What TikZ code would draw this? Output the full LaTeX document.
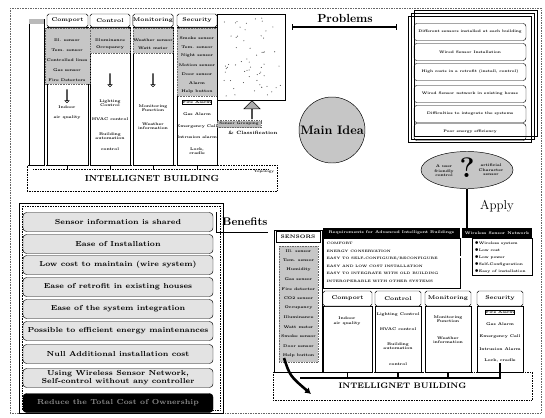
\documentclass[tikz,border=0pt]{standalone}
\usepackage{fontspec}
\usepackage{xcolor}
\usepackage{tikz}
\usetikzlibrary{shapes.geometric,shapes.arrows,arrows.meta}

\newcommand\tinyb{\fontsize{3.3}{3.9}\selectfont\bfseries}

\tikzset{
  frame/.style={draw=black!60, densely dotted},
  colbody/.style={draw, line width=0.5pt},
  colhead/.style={draw, fill=white, rounded corners=1.5pt, inner sep=0pt, font=\fontsize{4.6}{4.6}\selectfont\bfseries},
  sensfill/.style={fill=gray!45, draw=black!60, densely dotted},
  lbl/.style={inner sep=0.3pt, align=center, font=\tinyb},
  downarr/.style={single arrow, draw, fill=white, shape border rotate=270, minimum height=13*0.03cm, minimum width=4*0.03cm, single arrow head extend=0.8pt, inner sep=0pt},
  building/.style={draw, densely dotted, inner sep=0pt},
  bigtitle/.style={inner sep=0pt, font=\fontsize{10}{10}\selectfont\bfseries},
  benefit/.style={draw, rounded corners=3pt, fill=gray!22, minimum width=190*0.03cm, minimum height=19*0.03cm, inner sep=0pt, align=center, font=\fontsize{6.2}{6.6}\selectfont\bfseries},
  problem/.style={draw, rounded corners=2.5pt, minimum width=112*0.03cm, minimum height=17*0.03cm, inner sep=0pt, font=\fontsize{3.1}{3.6}\selectfont\bfseries},
  blackhead/.style={fill=black, text=white, inner sep=0pt, font=\fontsize{3.3}{3.8}\selectfont\bfseries},
}

\begin{document}
\begin{tikzpicture}[x=0.03cm,y=-0.03cm]
\useasboundingbox (0,0) rectangle (545,417);
\draw[frame] (10,8) rectangle (541,413);

% top building with its sensor columns
\node[building, minimum width=250*0.03cm, minimum height=26*0.03cm, font=\fontsize{7.5}{7.5}\selectfont\bfseries] (tbuild) at (152,178) {\raisebox{-2pt}{INTELLIGNET BUILDING}};
\node[lbl, font=\fontsize{2.8}{3}\selectfont\bfseries] (ttopo) at (264,172) {Topology};
\draw[densely dotted] (33,169) -- (268,169);
\draw[colbody] (29,19) rectangle (44,165);
\fill[gray!55] (29,19) rectangle (44,24);
\foreach \xa/\xb/\nm/\lab in {47/88/tcomport/Comport,90/130/tcontrol/Control,133/173/tmonitor/Monitoring,177/217/tsecurity/Security}{
  \draw[colbody] (\xa,27) rectangle (\xb,165);
  \node[colhead, minimum width={(\xb-\xa)*0.03cm}, minimum height=13*0.03cm] (\nm) at ({(\xa+\xb)/2},20.5) {\lab};
  \draw ({(\xa+\xb)/2},165) -- ({(\xa+\xb)/2},169);
}
\path[sensfill] (45,28) rectangle (90,84);
\path[sensfill] (90,28) rectangle (130,53);
\path[sensfill] (133,28) rectangle (173,53);
\path[sensfill] (177,28) rectangle (217,96);
\foreach \t [count=\i] in {Ill. sensor, Tem. sensor, Controlled lines, Gas sensor, Fire Detectors}
  \node[lbl] (tcs\i) at (67,{30+\i*10}) {\t};
\node[lbl] (tcc1) at (110,40) {Illuminance};
\node[lbl] (tcc2) at (110,48) {Occupancy};
\node[lbl] (tcm1) at (153,40) {Weather sensor};
\node[lbl] (tcm2) at (153,48) {Watt meter};
\foreach \t [count=\i] in {Smoke sensor, Tem. sensor, Night sensor, Motion sensor, Door sensor, Alarm, Help button}
  \node[lbl] (tss\i) at (197,{29+\i*9}) {\t};
\node[downarr] (tcomport-arr) at (67,96) {};
\node[downarr] (tcontrol-arr) at (110,80) {};
\node[downarr] (tmonitor-arr) at (153,80) {};
\node[lbl] (tco1) at (67,107) {Indoor};
\node[lbl] (tco2) at (67,118) {air quality};
\node[lbl] (tct1) at (110,103) {Lighting\\Control};
\node[lbl] (tct2) at (110,119) {HVAC control};
\node[lbl] (tct3) at (110,136) {Building\\automation};
\node[lbl] (tct4) at (110,149) {control};
\node[lbl] (tmo1) at (153,108) {Monitoring\\Function};
\node[lbl] (tmo2) at (153,126) {Weather\\information};
\node[lbl, draw] (tse1) at (197,102) {Fire Alarm};
\node[lbl] (tse2) at (197,114) {Gas Alarm};
\node[lbl] (tse3) at (197,127) {Emergency Call};
\node[lbl] (tse4) at (197,137) {Intrusion alarm};
\node[lbl] (tse5) at (197,151) {Lock,\\cradle};

% sensor field
\node[draw, minimum width=68*0.03cm, minimum height=86*0.03cm, inner sep=0pt] (field) at (251,57) {};
\pgfmathsetseed{5}
\foreach \i in {1,...,60}
  \fill[black!75] ({221+60*rnd},{18+78*rnd}) circle (0.45pt);
\node[single arrow, draw, fill=gray!65, shape border rotate=90, minimum height=18*0.03cm, minimum width=16*0.03cm, single arrow head extend=0.12cm, inner sep=0pt] (uparr) at (252,110) {};
\node[fill=gray!55, draw=black!60, densely dotted, minimum width=44*0.03cm, minimum height=7*0.03cm, inner sep=0pt, font=\fontsize{3}{3}\selectfont\bfseries] (group) at (239,124) {Sensor Grouping};
\node[lbl, font=\fontsize{4}{4}\selectfont\bfseries] (classif) at (253,133) {\& Classification};

% problems
\node[bigtitle] (probtitle) at (345,18) {Problems};
\draw[{Bar[width=5pt]}-{Bar[width=5pt]}, line width=1.2pt] (292,27) -- (397,27);
\draw (414,10) rectangle (537,136);
\draw (411,13) rectangle (534,139);
\draw (408,16) rectangle (531,142);
\foreach \t/\yc [count=\i] in {{Different sensors installed at each building}/32, {Wired Sensor Installation}/52, {High costs in a retrofit (install, control)}/72, {Wired Sensor network in existing house}/94, {Difficulties to integrate the systems}/114, {Poor energy efficiency}/132}
  \node[problem] (prob\i) at (470,\yc) {\t};

% main idea and question
\node[circle, draw, fill=gray!45, minimum size=66*0.03cm, inner sep=0pt, font=\fontsize{10.5}{10.5}\selectfont\bfseries] (idea) at (332,130) {Main Idea};
\node[ellipse, draw, fill=gray!45, minimum width=92*0.03cm, minimum height=37*0.03cm, inner sep=0pt] (quest) at (467,170) {};
\node[inner sep=0pt, font=\fontsize{24}{24}\selectfont\bfseries] (qmark) at (467,168) {?};
\node[lbl, font=\fontsize{3.2}{3.7}\selectfont\bfseries] (qleft) at (444,171) {A user\\friendly\\control};
\node[lbl, font=\fontsize{3.2}{3.7}\selectfont\bfseries] (qright) at (491,170) {artificial\\Character\\sensor};
\node[inner sep=0pt, font=\fontsize{11}{11}\selectfont] (apply) at (497,206) {Apply};

% benefits
\draw (19,203) rectangle (223,413);
\draw[densely dotted] (22,206) rectangle (220,410);
\foreach \t/\yc [count=\i] in {{Sensor information is shared}/222, {Ease of Installation}/244, {Low cost to maintain (wire system)}/265, {Ease of retrofit in existing houses}/287, {Ease of the system integration}/309, {Possible to efficient energy maintenances}/331, {Null Additional installation cost}/354, {Using Wireless Sensor Network,\\Self-control without any controller}/378}
  \node[benefit] (ben\i) at (118,\yc) {\t};
\node[benefit, fill=black, text=white!55!black] (ben9) at (118,403) {Reduce the Total Cost of Ownership};
\node[bigtitle, font=\fontsize{9.5}{9.5}\selectfont\bfseries] (bentitle) at (245,222) {Benefits};
\draw ([xshift=0.09cm]ben1.north east) -- ([xshift=0.09cm]ben1.south east) -- (bentitle.south east |- ben1.south);

% bottom building with requirements
\node[building, minimum width=259*0.03cm, minimum height=28*0.03cm, font=\fontsize{6.8}{6.8}\selectfont\bfseries] (bbuild) at (402.5,386) {\raisebox{-2pt}{INTELLIGNET BUILDING}};
\draw[colbody] (274,230) rectangle (322,372);
\node[draw, fill=white, minimum width=44*0.03cm, minimum height=11*0.03cm, inner sep=0pt, font=\fontsize{4.3}{4.3}\selectfont\bfseries] (senshead) at (298,237) {SENSORS};
\path[sensfill] (279,246) rectangle (318,362);
\foreach \t [count=\i] in {Ill. sensor, Tem. sensor, Humidity, Gas sensor, Fire detector, CO2 sensor, Occupancy, Illuminance, Watt meter, Smoke sensor, Door sensor, Help button}
  \node[lbl] (bs\i) at (298.5,{241.5+\i*9.5}) {\t};

\node[blackhead, minimum width=137*0.03cm, minimum height=10*0.03cm] (reqhead) at (391.5,233) {Requirements for Advanced Intelligent Buildings};
\node[draw, minimum width=137*0.03cm, minimum height=50*0.03cm, inner sep=0pt, anchor=north] (req) at (reqhead.south) {};
\foreach \t [count=\i] in {COMFORT, ENERGY CONSERVATION, EASY TO SELF-CONFIGURE/RECONFIGURE, EASY AND LOW COST INSTALLATION, EASY TO INTEGRATE WITH OLD BUILDING, INTEROPERABLE WITH OTHER SYSTEMS}
  \node[anchor=west, lbl, font=\fontsize{2.9}{3.4}\selectfont\bfseries] (reqt\i) at (326,{236+\i*7.5}) {\t};
\node[blackhead, minimum width=70*0.03cm, minimum height=10*0.03cm] (wsnhead) at (497,233) {Wireless Sensor Network};
\node[draw, minimum width=60*0.03cm, minimum height=37*0.03cm, inner sep=0pt, anchor=north east] (wsn) at (wsnhead.south east) {};
\foreach \t [count=\i] in {Wireless system, Low cost, Low power, Self-Configuration, Easy of installation}
  \node[anchor=west, lbl, font=\fontsize{3.1}{3.6}\selectfont\bfseries] (wsnt\i) at (474,{236+\i*7}) {$\bullet$\t};
\draw[double, double distance=1.2pt] (req.east |- wsn.west) -- (wsn.west);
\draw[line width=1pt] (quest.south) -- (quest.south |- wsnhead.north);

\foreach \xa/\xb/\nm/\lab in {323/372/bcomport/Comport,375/421/bcontrol/Control,425/471/bmonitor/Monitoring,477/523/bsecurity/Security}{
  \draw[colbody] (\xa,306) rectangle (\xb,372);
  \node[colhead, minimum width={(\xb-\xa)*0.03cm}, minimum height=15*0.03cm] (\nm) at ({(\xa+\xb)/2},298.5) {\lab};
}
\node[lbl] (bco1) at (347,321) {Indoor\\air quality};
\node[lbl] (bct1) at (398,315) {Lighting Control};
\node[lbl] (bct2) at (398,329) {HVAC control};
\node[lbl] (bct3) at (398,346) {Building\\automation};
\node[lbl] (bct4) at (398,364) {control};
\node[lbl] (bmo1) at (448,319) {Monitoring\\Function};
\node[lbl] (bmo2) at (448,340) {Weather\\information};
\node[lbl, draw] (bse1) at (500,312) {Fire Alarm};
\node[lbl] (bse2) at (500,324) {Gas Alarm};
\node[lbl] (bse3) at (500,337) {Emergency Call};
\node[lbl] (bse4) at (500,349) {Intrusion Alarm};
\node[lbl] (bse5) at (500,361) {Lock, cradle};

% bus and sensor link
\coordinate (sensout) at (284,358);
\coordinate (bustip) at (311,394);
\coordinate (busl) at (300,378);
\coordinate (busr) at (500,378);
\draw[line width=2.2pt, -{Latex[length=5pt,width=6pt]}] (sensout) .. controls (290,376) .. (bustip);
\draw[line width=1.5pt] (busl) -- (busr) -- (bse5.south);
\foreach \nm in {bcomport,bcontrol,bmonitor}
  \draw[line width=1pt] (\nm |- busl) -- ([yshift=0.18cm]\nm |- busl);
\end{tikzpicture}
\end{document}
